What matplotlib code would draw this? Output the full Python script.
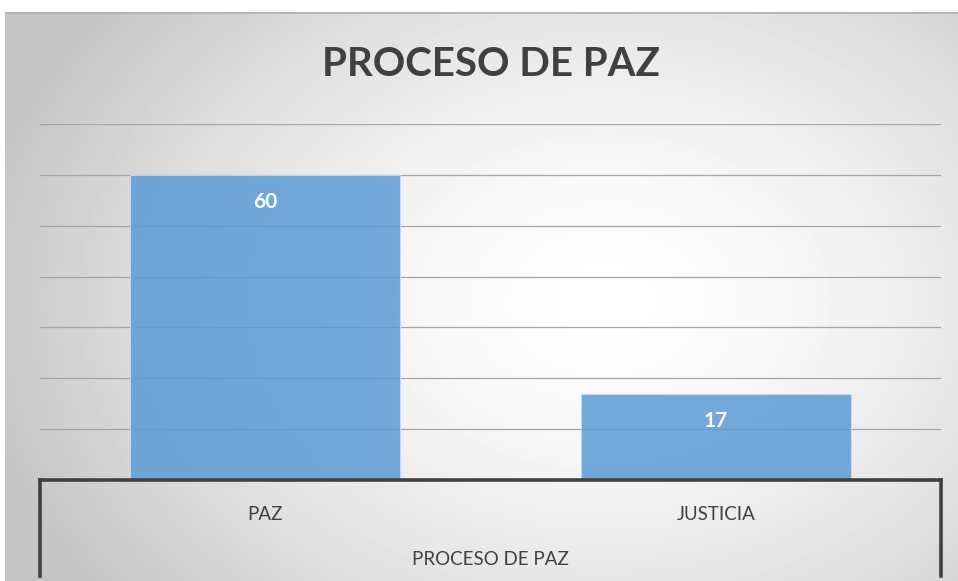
import numpy as np
import matplotlib
matplotlib.use("Agg")
import matplotlib.pyplot as plt

categories = ["PAZ", "JUSTICIA"]
values = [60, 17]
group_label = "PROCESO DE PAZ"
title = "PROCESO DE PAZ"

plt.rcParams["font.family"] = ["Lato", "DejaVu Sans"]

W, H = 958, 581
fig = plt.figure(figsize=(W / 100, H / 100), dpi=100)
fig.patch.set_facecolor("white")

# radial gradient background
bg = fig.add_axes([5 / W, 0, 1 - 5 / W, 1 - 12 / H], zorder=0)
yy, xx = np.mgrid[0:569, 0:953]
cx, cy = 600, 290
r = np.sqrt(((xx - cx) / 640) ** 2 + ((yy - cy) / 480) ** 2)
shade = 1.0 - 0.23 * np.clip(r, 0, 1) ** 1.6
bg.imshow(shade, cmap="gray", vmin=0, vmax=1, aspect="auto", interpolation="bilinear")
bg.axhline(0, color="#b0b0b0", lw=1.2)
bg.set_axis_off()

ax = fig.add_axes([40 / W, (H - 480) / H, 901 / W, 356 / H], zorder=1)
ax.patch.set_alpha(0)
x = np.arange(len(categories))
bars = ax.bar(x, values, width=0.6, color="#5B9BD5", alpha=0.85,
              edgecolor="#c9dcf0", linewidth=0.8, zorder=2)
ax.set_xlim(-0.5, len(categories) - 0.5)
ax.set_ylim(0, 70)
ax.set_yticks(np.arange(0, 71, 10))
ax.yaxis.grid(True, color="#a6a6a6", lw=0.9, zorder=1)
ax.set_axisbelow(True)
ax.tick_params(left=False, labelleft=False, bottom=False, labelbottom=False)
for s in ["top", "right", "left"]:
    ax.spines[s].set_visible(False)
ax.spines["bottom"].set_color("#404040")
ax.spines["bottom"].set_linewidth(2.6)
ax.spines["bottom"].set_zorder(3)

for b, v in zip(bars, values):
    ax.text(b.get_x() + b.get_width() / 2, v - 5.4, str(v), ha="center",
            va="center", color="white", fontsize=15, fontweight="bold", zorder=4)

# category box below the axis
for xe in [-0.5, len(categories) - 0.5]:
    ax.plot([xe, xe], [0, -0.27], transform=ax.get_xaxis_transform(),
            color="#404040", lw=2.6, clip_on=False, solid_capstyle="projecting")
for i, c in enumerate(categories):
    ax.text(i, -0.096, c, transform=ax.get_xaxis_transform(), ha="center",
            va="center", fontsize=13.5, color="#404040")
ax.text(0.5, -0.222, group_label, transform=ax.transAxes, ha="center",
        va="center", fontsize=13.5, color="#404040")

fig.text(491 / W, 1 - 64 / H, title, ha="center", va="center",
         fontsize=29, fontweight="bold", color="#404040")

fig.savefig("out.png", dpi=100)
